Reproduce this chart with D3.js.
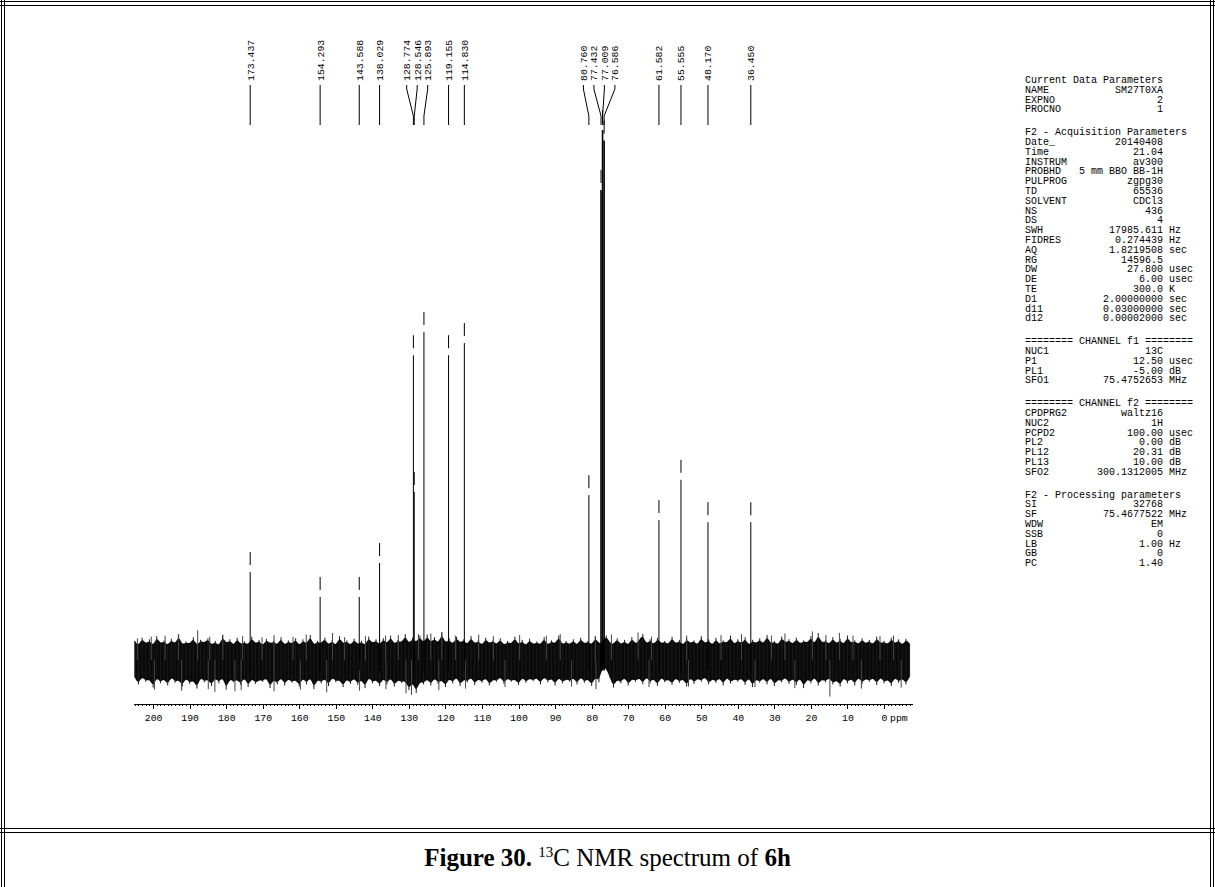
<!DOCTYPE html>
<html>
<head>
<meta charset="utf-8">
<script src="https://cdn.jsdelivr.net/npm/d3@7"></script>
<style>
body { margin: 0; background: #fff; }
svg { display: block; }
text { font-family: "Liberation Mono", "DejaVu Sans Mono", monospace; fill: #000; }
</style>
</head>
<body>
<div id="fig"></div>
<script>

// labelled peaks (ppm) and their heights (% of the solvent line)
var peakPpm = [173.437, 154.293, 143.588, 138.029, 128.774, 128.546, 125.893, 119.155, 114.830,
               80.760, 77.432, 77.009, 76.586, 61.582, 55.555, 48.170, 36.450]
var peakHeight = [16.6, 11.9, 11.9, 18.3, 57.5, 31.7, 61.9, 57.5, 59.8,
                  31.1, 88.7, 100, 98, 26.4, 34, 26, 26]

// noise band: upper and lower excursion, read every 1 ppm from 205 down to -7
var noiseHi = [
  3.6,2.6,4.2,2.9,3.9,2.5,4.5,3.0,3.7,2.6,4.0,2.8,4.8,2.7,3.5,2.9,4.3,2.6,3.8,3.1,
  4.1,2.7,3.6,2.5,4.6,3.0,3.9,2.6,4.2,2.8,3.5,2.7,4.4,2.9,3.8,2.5,4.0,3.0,3.6,2.7,
  4.3,2.6,3.7,2.9,4.1,2.5,3.9,2.8,4.7,2.6,3.6,3.0,4.2,2.7,3.8,2.5,4.5,2.9,3.7,2.6,
  4.0,2.8,3.6,2.6,4.4,3.0,3.9,2.7,4.1,2.9,4.6,2.8,3.8,3.1,4.9,2.9,4.2,3.2,4.6,3.0,
  4.8,3.1,4.3,2.9,5.2,3.0,4.1,2.8,4.4,3.1,3.9,2.7,4.5,2.9,3.8,2.6,4.2,3.0,3.7,2.8,
  4.1,2.6,3.6,2.9,4.4,2.7,3.8,2.5,4.0,2.8,3.5,2.7,4.3,2.6,3.7,2.9,4.6,2.7,3.6,2.8,
  3.9,2.6,4.2,2.9,3.6,2.7,4.4,3.0,3.5,4.6,3.2,2.9,4.1,2.7,3.8,2.6,4.3,2.9,3.7,4.9,
  2.8,3.9,2.7,4.2,3.0,3.6,2.8,4.4,2.9,3.8,2.6,4.1,3.0,3.7,2.7,4.5,2.9,3.9,2.6,4.2,
  2.8,3.7,3.0,4.6,2.7,3.9,2.9,4.3,2.6,3.8,3.0,4.1,2.8,4.7,2.9,3.6,2.7,4.4,3.1,3.9,
  2.8,4.2,2.9,3.7,3.1,4.5,2.7,5.1,3.0,3.8,2.8,4.3,2.9,4.0,2.7,4.6,3.0,3.7,2.8,4.1,
  2.9,3.8,2.7,4.4,3.0,3.6,2.8,4.2,2.9,3.9,2.6,4.0,3.1]
var noiseLo = [
  -3.3,-4.6,-3.0,-4.1,-3.5,-5.2,-3.1,-4.4,-3.4,-4.8,-3.0,-4.3,-3.6,-5.0,-3.2,-4.5,-3.7,-5.4,-3.1,-4.2,
  -3.5,-4.9,-3.2,-4.4,-3.0,-5.6,-3.4,-4.2,-3.6,-4.7,-3.1,-5.1,-3.3,-4.5,-3.7,-4.1,-3.2,-5.3,-3.5,-4.6,
  -3.1,-4.8,-3.4,-4.3,-3.6,-5.0,-3.2,-4.6,-3.0,-5.5,-3.5,-4.4,-3.3,-4.9,-3.1,-4.2,-3.6,-5.1,-3.4,-4.5,
  -3.2,-4.7,-3.5,-5.3,-3.0,-4.4,-3.6,-4.9,-3.3,-4.6,-3.1,-5.0,-3.6,-4.3,-3.8,-5.7,-4.0,-6.2,-3.9,-4.6,
  -3.4,-4.8,-3.2,-4.5,-3.6,-5.1,-3.3,-4.4,-3.0,-4.9,-3.5,-4.2,-3.1,-4.7,-3.4,-4.3,-3.2,-4.8,-3.6,-4.1,
  -3.0,-4.5,-3.3,-4.1,-3.5,-4.7,-3.1,-4.3,-3.4,-4.0,-3.2,-4.6,-3.0,-4.2,-3.3,-4.8,-3.1,-4.4,-3.5,-4.1,
  -3.2,-4.6,-3.0,-4.3,-3.4,-4.9,-3.1,-4.2,-1.2,-1.6,-3.3,-5.2,-3.5,-4.4,-3.1,-4.8,-3.4,-4.1,-3.2,-4.6,
  -3.0,-4.4,-3.3,-4.9,-3.1,-4.2,-3.5,-4.7,-3.2,-4.3,-3.4,-5.0,-3.1,-4.5,-3.3,-4.1,-3.0,-4.6,-3.4,-4.3,
  -3.2,-4.8,-3.0,-4.4,-3.5,-4.1,-3.3,-4.7,-3.1,-5.1,-3.4,-4.3,-3.2,-4.6,-3.0,-4.9,-3.5,-4.2,-3.1,-4.5,
  -3.3,-4.7,-3.1,-5.3,-3.4,-4.4,-3.0,-4.8,-3.5,-4.2,-3.2,-4.6,-3.6,-5.0,-3.1,-4.4,-3.3,-4.8,-3.0,-4.5,
  -3.4,-4.1,-3.2,-4.7,-3.0,-4.4,-3.5,-4.9,-3.1,-4.3,-3.3,-4.6,-3.2]

// single noise spikes sticking out of the band: [ppm, height]
var spikes = [
  [204.3,4.1],[200.5,4.4],[196.7,4.6],[193.1,4.9],[187.8,5.6],[184.5,4.4],[180.9,4.8],[175.5,4.5],
  [170.2,4.3],[166.9,4.7],[161.7,4.4],[158.1,4.8],[150.9,5.1],[147.6,4.3],[141.9,4.5],[136.4,4.6],
  [132.9,4.7],[127.4,4.9],[124.0,5.0],[121.0,5.3],[117.3,4.6],[110.9,4.8],[106.9,4.5],[99.7,4.7],
  [92.4,4.6],[88.6,4.9],[79.0,4.5],[74.6,4.8],[67.3,5.2],[63.6,4.4],[54.0,4.6],[44.6,4.7],
  [39.0,4.9],[30.8,4.6],[27.1,5.0],[19.6,5.4],[15.9,4.7],[12.2,5.1],[8.5,4.6],[1.1,4.5],[-2.6,4.6],
  [199.6,-5.6],[192.2,-5.8],[184.9,-5.5],[183.1,-6.0],[177.6,-5.9],[175.9,-5.7],[166.9,-5.9],
  [159.7,-5.6],[152.5,-6.1],[143.5,-5.8],[136.3,-5.5],[130.8,-6.3],[129.3,-6.6],[121.8,-5.7],
  [114.5,-5.4],[103.7,-5.1],[85.5,-5.0],[78.8,-5.5],[64.3,-5.1],[53.5,-5.0],[35.3,-5.1],
  [24.4,-5.3],[14.8,-6.9],[6.2,-5.4],[-4.7,-5.2]
]

var majorTicks = [200, 190, 180, 170, 160, 150, 140, 130, 120, 110, 100, 90, 80, 70, 60, 50, 40, 30, 20, 10, 0]

// parameter listing on the right
var paramHeaders = ["Current Data Parameters", "F2 - Acquisition Parameters",
                    "======== CHANNEL f1 ========", "======== CHANNEL f2 ========",
                    "F2 - Processing parameters"]
var paramRows = [
  [["NAME","SM27T0XA",""],["EXPNO","2",""],["PROCNO","1",""]],
  [["Date_","20140408",""],["Time","21.04",""],["INSTRUM","av300",""],["PROBHD","5 mm BBO BB-1H",""],
   ["PULPROG","zgpg30",""],["TD","65536",""],["SOLVENT","CDCl3",""],["NS","436",""],["DS","4",""],
   ["SWH","17985.611","Hz"],["FIDRES","0.274439","Hz"],["AQ","1.8219508","sec"],["RG","14596.5",""],
   ["DW","27.800","usec"],["DE","6.00","usec"],["TE","300.0","K"],["D1","2.00000000","sec"],
   ["d11","0.03000000","sec"],["d12","0.00002000","sec"]],
  [["NUC1","13C",""],["P1","12.50","usec"],["PL1","-5.00","dB"],["SFO1","75.4752653","MHz"]],
  [["CPDPRG2","waltz16",""],["NUC2","1H",""],["PCPD2","100.00","usec"],["PL2","0.00","dB"],
   ["PL12","20.31","dB"],["PL13","10.00","dB"],["SFO2","300.1312005","MHz"]],
  [["SI","32768",""],["SF","75.4677522","MHz"],["WDW","EM",""],["SSB","0",""],["LB","1.00","Hz"],
   ["GB","0",""],["PC","1.40",""]]
]

var W = 1215, H = 887
var svg = d3.select("#fig").append("svg")
  .attr("width", W)
  .attr("height", H)

var x = d3.scaleLinear().domain([205.5, -7.66]).range([133, 912])
var y = d3.scaleLinear().domain([0, 100]).range([660, 130])

// frame
var frame = svg.append("g").attr("stroke", "#000").attr("stroke-width", 1).attr("shape-rendering", "crispEdges")
;[1.5, 4.5].forEach(function(v){
  frame.append("line").attr("x1", v).attr("x2", v).attr("y1", 0).attr("y2", H)
  frame.append("line").attr("x1", W - v).attr("x2", W - v).attr("y1", 0).attr("y2", H)
})
;[1.5, 5.5, 828.5, 832.5].forEach(function(v){
  frame.append("line").attr("x1", 0).attr("x2", W).attr("y1", v).attr("y2", v)
})

// noise: dense core plus one hairline per sample
var grid = noiseHi.map(function(d, i){ return 205 - i })
var band = d3.area()
  .curve(d3.curveBasis)
  .x(function(d, i){ return x(grid[i]) })
  .y0(function(d, i){ return y(noiseLo[i]) })
  .y1(function(d){ return y(d) })
svg.append("path")
  .datum(noiseHi)
  .attr("d", band)
  .attr("fill", "#0a0a0a")

svg.append("g").selectAll("line")
  .data(noiseHi)
  .join("line")
  .attr("x1", function(d, i){ return x(grid[i]) })
  .attr("x2", function(d, i){ return x(grid[i]) })
  .attr("y1", function(d, i){ return y(noiseLo[i]) })
  .attr("y2", function(d){ return y(d) })
  .attr("stroke", "#1a1a1a")
  .attr("stroke-width", 1)

svg.append("g").selectAll("line")
  .data(spikes)
  .join("line")
  .attr("x1", function(d){ return x(d[0]) })
  .attr("x2", function(d){ return x(d[0]) })
  .attr("y1", y(0))
  .attr("y2", function(d){ return y(d[1]) })
  .attr("stroke", "#444")
  .attr("stroke-width", 1)

// peaks
var peaks = svg.append("g").attr("stroke", "#000")
peaks.selectAll("line.pk")
  .data(peakPpm)
  .join("line")
  .attr("class", "pk")
  .attr("x1", function(d){ return x(d) })
  .attr("x2", function(d){ return x(d) })
  .attr("y1", y(-2))
  .attr("y2", function(d, i){ return y(peakHeight[i]) })
  .attr("stroke-width", function(d){ return d > 76 && d < 78 ? 1.6 : 1 })

// small marks above each peak top
peaks.selectAll("line.mk")
  .data(peakPpm)
  .join("line")
  .attr("class", "mk")
  .attr("x1", function(d){ return x(d) })
  .attr("x2", function(d){ return x(d) })
  .attr("y1", function(d, i){ return y(peakHeight[i]) - 20 })
  .attr("y2", function(d, i){ return y(peakHeight[i]) - 7 })

// spread crowded labels
var px = peakPpm.map(function(d){ return x(d) })
var gap = 10.5
var groups = px.map(function(d, i){ return [i] })
function place(g){
  var m = d3.mean(g, function(i){ return px[i] })
  return g.map(function(i, k){ return m + (k - (g.length - 1) / 2) * gap })
}
var merged = true
while (merged) {
  merged = false
  for (var k = 0; k < groups.length - 1; k++) {
    var a = place(groups[k]), b = place(groups[k + 1])
    if (b[0] - a[a.length - 1] < gap) {
      groups.splice(k, 2, groups[k].concat(groups[k + 1]))
      merged = true
      break
    }
  }
}
var lx = []
groups.forEach(function(g){
  var p = place(g)
  g.forEach(function(i, k){ lx[i] = p[k] })
})

svg.append("g").selectAll("path")
  .data(peakPpm)
  .join("path")
  .attr("d", function(d, i){
    return "M" + lx[i] + ",85L" + lx[i] + ",89L" + px[i] + ",116L" + px[i] + ",125"
  })
  .attr("fill", "none")
  .attr("stroke", "#000")

svg.append("g").selectAll("text")
  .data(peakPpm)
  .join("text")
  .attr("transform", function(d, i){ return "translate(" + lx[i] + ",81) rotate(-90)" })
  .attr("dy", "0.35em")
  .style("font-size", "9.8px")
  .text(function(d){ return d3.format(".3f")(d) })

// ppm axis
var axisY = 704
var minor = d3.range(-7, 206, 1)
svg.append("g")
  .attr("transform", "translate(0," + axisY + ")")
  .call(d3.axisBottom(x).tickValues(minor).tickSize(2).tickSizeOuter(0).tickFormat(""))
svg.append("g")
  .attr("class", "major")
  .attr("transform", "translate(0," + axisY + ")")
  .call(d3.axisBottom(x).tickValues(majorTicks).tickSize(5).tickSizeOuter(0).tickPadding(5).tickFormat(d3.format("d")))
svg.selectAll(".tick text").style("font-size", "9.8px").style("font-family", "Liberation Mono")
svg.selectAll(".domain, .tick line").attr("stroke", "#000").attr("shape-rendering", "crispEdges")
svg.append("text")
  .attr("x", x(0) + 6)
  .attr("y", axisY + 17)
  .style("font-size", "9.8px")
  .text("ppm")

// parameter block
var pg = svg.append("g").style("font-size", "10px")
var lineH = 9.8, py = 83
paramHeaders.forEach(function(hd, gi){
  pg.append("text").attr("x", 1025).attr("y", py).text(hd)
  py += lineH
  paramRows[gi].forEach(function(r){
    pg.append("text").attr("x", 1025).attr("y", py).text(r[0])
    pg.append("text").attr("x", 1163).attr("y", py).attr("text-anchor", "end").text(r[1])
    if (r[2]) pg.append("text").attr("x", 1169).attr("y", py).text(r[2])
    py += lineH
  })
  py += 13
})

// caption
var cap = svg.append("text")
  .attr("x", W / 2)
  .attr("y", 866)
  .attr("text-anchor", "middle")
  .style("font-family", "Liberation Serif, Times New Roman, serif")
  .style("font-size", "25px")
cap.append("tspan").style("font-weight", "bold").text("Figure 30. ")
cap.append("tspan").attr("dy", -9).style("font-size", "15px").text("13")
cap.append("tspan").attr("dy", 9).text("C NMR spectrum of ")
cap.append("tspan").style("font-weight", "bold").text("6h")

</script>
</body>
</html>
